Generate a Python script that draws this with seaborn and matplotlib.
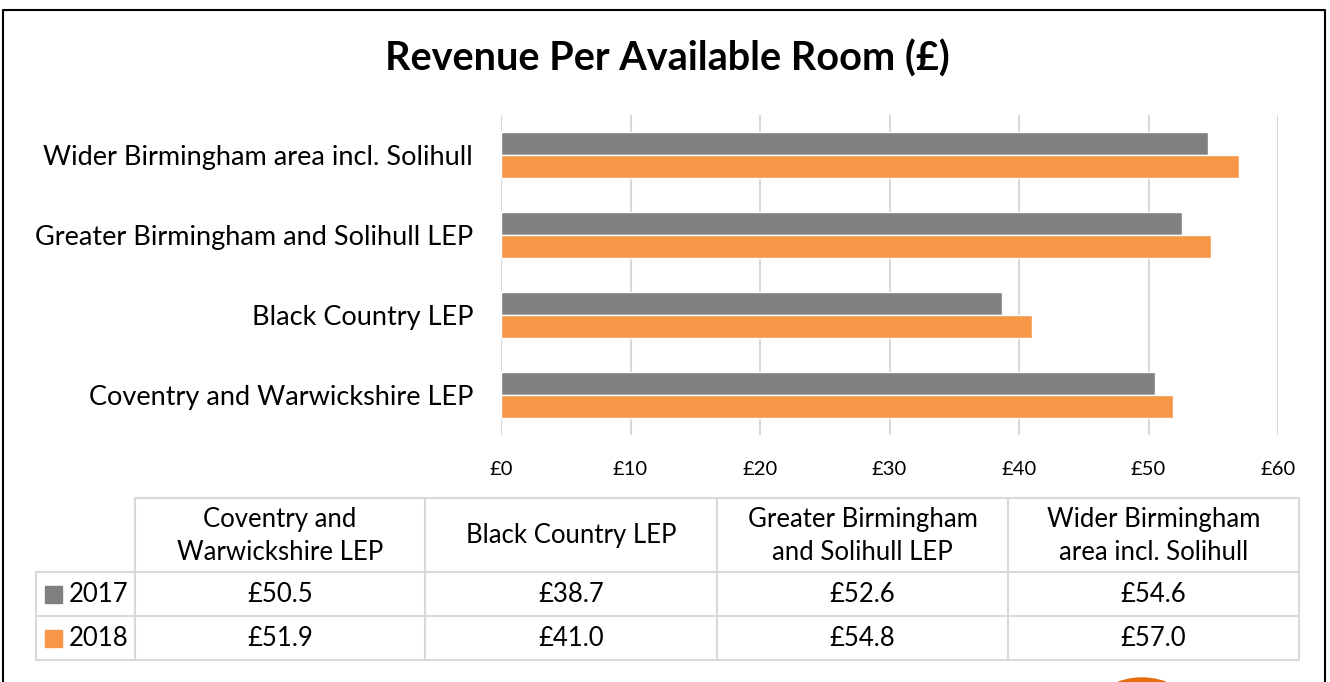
import matplotlib
matplotlib.use("Agg")
import matplotlib.pyplot as plt
import seaborn as sns
import pandas as pd
from matplotlib.patches import Rectangle, Ellipse

# ---- data ----
categories = ["Wider Birmingham area incl. Solihull",
              "Greater Birmingham and Solihull LEP",
              "Black Country LEP",
              "Coventry and Warwickshire LEP"]
years = ["2017", "2018"]
values_2017 = [54.6, 52.6, 38.7, 50.5]
values_2018 = [57.0, 54.8, 41.0, 51.9]
x_ticks = [0, 10, 20, 30, 40, 50, 60]
table_headers = ["Coventry and\nWarwickshire LEP", "Black Country LEP",
                 "Greater Birmingham\nand Solihull LEP", "Wider Birmingham\narea incl. Solihull"]
table_order = [3, 2, 1, 0]  # table columns in reverse category order

colors = {"2017": "#808080", "2018": "#F79646"}
FONT = "Lato"

sns.set_theme(style="white")
plt.rcParams["font.family"] = [FONT, "DejaVu Sans"]

df = pd.DataFrame({
    "category": categories * 2,
    "year": ["2017"] * 4 + ["2018"] * 4,
    "value": values_2017 + values_2018,
})

W, H = 1330, 682
fig = plt.figure(figsize=(W / 100, H / 100), dpi=100)

def fx(px):
    return px / W

def fy(py):
    return 1 - py / H

ax = fig.add_axes([fx(501), fy(435), fx(1278) - fx(501), fy(115) - fy(435)])
sns.barplot(data=df, y="category", x="value", hue="year", order=categories,
            hue_order=years, palette=colors, orient="h", width=0.575,
            saturation=1, ax=ax, legend=False, zorder=3)
ax.set_xlim(0, 60)
ax.set_ylim(3.5, -0.5)
ax.set_xticks(x_ticks)
ax.set_xticklabels([f"£{t}" for t in x_ticks], fontsize=14.5, color="#000000")
ax.tick_params(axis="x", length=0, pad=19)
ax.tick_params(axis="y", length=0, pad=20)
for lbl in ax.get_yticklabels():
    lbl.set_fontsize(19.5)
    lbl.set_color("#000000")
ax.set_xlabel("")
ax.set_ylabel("")
ax.grid(axis="x", color="#d9d9d9", linewidth=1.5, zorder=0)
ax.grid(axis="y", visible=False)
for s in ax.spines.values():
    s.set_visible(False)

# ---- overlay for title, table, border ----
ov = fig.add_axes([0, 0, 1, 1], zorder=-1)
ov.set_xlim(0, W)
ov.set_ylim(H, 0)
ov.axis("off")

ov.text(667, 59, "Revenue Per Available Room (£)", ha="center", va="center",
        fontsize=28.5, fontweight="bold", color="#000000")

# outer border
ov.plot([3, 3, 1325, 1325], [H + 5, 10, 10, H + 5], color="#000000", lw=1.5,
        clip_on=False)

# orange decoration at bottom
ov.add_patch(Ellipse((1142, 706), 90, 56, color="#E46C0A", zorder=1))

# table
gc = "#d9d9d9"
col_x = [36, 135, 425, 717, 1008, 1299]
row_y = [498, 572, 616, 660]
lw = 1.5
ov.plot([col_x[1], col_x[-1]], [row_y[0], row_y[0]], color=gc, lw=lw)
for yv in row_y[1:]:
    ov.plot([col_x[0], col_x[-1]], [yv, yv], color=gc, lw=lw)
ov.plot([col_x[0], col_x[0]], [row_y[1], row_y[-1]], color=gc, lw=lw)
for xv in col_x[1:]:
    ov.plot([xv, xv], [row_y[0], row_y[-1]], color=gc, lw=lw)

TFS = 18.5
series = [values_2017, values_2018]
for j, ci in enumerate(table_order):
    cx = (col_x[j + 1] + col_x[j + 2]) / 2
    ov.text(cx, (row_y[0] + row_y[1]) / 2 + 1, table_headers[j], ha="center",
            va="center", fontsize=TFS, linespacing=1.42, color="#000000")
    for r in range(2):
        cy = (row_y[r + 1] + row_y[r + 2]) / 2
        ov.text(cx, cy, f"£{series[r][ci]:.1f}", ha="center", va="center",
                fontsize=TFS, color="#000000")

for r, yr in enumerate(years):
    cy = (row_y[r + 1] + row_y[r + 2]) / 2
    ov.add_patch(Rectangle((45, cy - 8.5), 17, 17, color=colors[yr]))
    ov.text(69, cy, yr, ha="left", va="center", fontsize=TFS, color="#000000")

fig.savefig("out.png", dpi=100)
